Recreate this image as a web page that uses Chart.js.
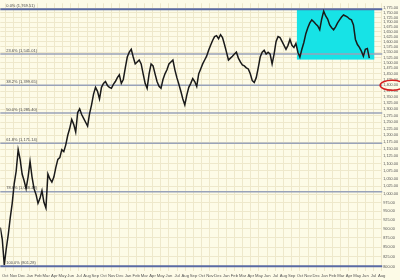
<!DOCTYPE html>
<html>
<head>
<meta charset="utf-8">
<script src="https://cdn.jsdelivr.net/npm/chart.js@4/dist/chart.umd.min.js"></script>
<style>
html, body { margin: 0; padding: 0; background: #fdfbe7; }
#wrap { width: 400px; height: 280px; }
</style>
</head>
<body>
<div id="wrap"><canvas id="myChart"></canvas></div>
<script>
// month names along the bottom, Oct of the first year to Aug four years later
const monthLabels = [
  'Oct','Nov','Dec','Jan','Feb','Mar','Apr','May','Jun','Jul','Aug','Sep',
  'Oct','Nov','Dec','Jan','Feb','Mar','Apr','May','Jun','Jul','Aug','Sep',
  'Oct','Nov','Dec','Jan','Feb','Mar','Apr','May','Jun','Jul','Aug','Sep',
  'Oct','Nov','Dec','Jan','Feb','Mar','Apr','May','Jun','Jul','Aug'
];

// weekly closes
const weeklyClose = [
  903, 871, 805, 846, 883, 930, 973, 1033, 1074, 1148, 1114, 1065, 1043, 1018, 1055, 1107,
  1055, 1018, 1000, 973, 988, 1012, 976, 959, 1065, 1049, 1039, 1055, 1087, 1114, 1120,
  1148, 1141, 1165, 1200, 1226, 1260, 1241, 1212, 1287, 1302, 1279, 1264, 1249, 1234, 1283,
  1318, 1362, 1391, 1374, 1342, 1391, 1408, 1416, 1399, 1391, 1387, 1404, 1416, 1433, 1446,
  1408, 1425, 1477, 1527, 1550, 1564, 1527, 1495, 1504, 1513,
  1495, 1450, 1408, 1387, 1450, 1495, 1486, 1450, 1416, 1395, 1387, 1425, 1450, 1468, 1495,
  1504, 1513, 1468, 1433, 1404, 1374, 1342, 1318, 1358, 1391, 1408, 1429, 1416, 1395, 1450,
  1472, 1495, 1513, 1531, 1559, 1583, 1607, 1626, 1631, 1616, 1636, 1621, 1587, 1550, 1513,
  1522, 1531, 1541, 1550, 1522, 1504, 1490, 1486, 1477, 1472, 1450, 1420, 1412, 1433, 1477,
  1527, 1550, 1559, 1541, 1550,
  1541, 1495, 1541, 1602, 1626, 1621, 1602, 1583, 1564, 1583, 1612, 1583, 1573, 1592, 1550,
  1527, 1564, 1597, 1641, 1671, 1696, 1712, 1702, 1691, 1681, 1661, 1717, 1759, 1733, 1717,
  1686, 1671, 1661, 1676, 1696, 1712, 1727, 1738, 1733, 1727, 1717, 1712, 1686, 1612, 1587,
  1573, 1555, 1531, 1564, 1568, 1522
];

const priceTicks = [
  800, 825, 850, 875, 900, 925, 950, 975, 1000, 1025, 1050, 1075, 1100, 1125, 1150, 1175,
  1200, 1225, 1250, 1275, 1300, 1325, 1350, 1375, 1400, 1425, 1450, 1475, 1500, 1525, 1550,
  1575, 1600, 1625, 1650, 1675, 1700, 1725, 1750, 1775
];

const fibLevels = [0, 23.6, 38.2, 50, 61.8, 78.6, 100];
const fibHigh = 1769.51;
const fibLow = 801.28;

const boxWeeks = [149.5, 188.5];
const boxPrices = [1515, 1769.51];
const circledPrice = 1400;

function monthPos(m) { return 2.5 + 4.125 * m; }

function fmt(v) {
  return v.toLocaleString('en-US', { minimumFractionDigits: 2, maximumFractionDigits: 2 });
}

const overlays = {
  id: 'overlays',
  beforeDraw(chart) {
    const ctx = chart.ctx;
    ctx.save();
    ctx.fillStyle = '#fdfbe7';
    ctx.fillRect(0, 0, chart.width, chart.height);
    ctx.restore();
  },
  beforeDatasetsDraw(chart) {
    const { ctx, chartArea: a, scales: { x, y } } = chart;
    ctx.save();
    // highlighted range
    const x1 = x.getPixelForValue(boxWeeks[0]);
    const x2 = x.getPixelForValue(boxWeeks[1]);
    const y1 = y.getPixelForValue(boxPrices[1]);
    const y2 = y.getPixelForValue(boxPrices[0]);
    ctx.fillStyle = '#17e3e6';
    ctx.fillRect(x1, y1, x2 - x1, y2 - y1);
    // fibonacci lines
    ctx.font = '4px "Liberation Sans"';
    ctx.textBaseline = 'bottom';
    fibLevels.forEach(p => {
      const price = fibHigh - (fibHigh - fibLow) * p / 100;
      const py = y.getPixelForValue(price);
      const edge = p === 0 || p === 100;
      ctx.strokeStyle = edge ? '#5a6aa3' : '#98a2b9';
      ctx.lineWidth = edge ? 2 : 1.5;
      ctx.beginPath();
      ctx.moveTo(a.left, py);
      ctx.lineTo(a.right, py);
      ctx.stroke();
      ctx.fillStyle = '#4a4a4a';
      ctx.fillText(p.toFixed(1) + '% (' + fmt(price) + ')', a.left + 6, py - 1.5);
    });
    ctx.restore();
  },
  afterDraw(chart) {
    const { ctx, chartArea: a, scales: { y } } = chart;
    const cy = y.getPixelForValue(circledPrice);
    const cx = (a.right + chart.width) / 2 + 1;
    ctx.save();
    ctx.strokeStyle = '#d61f1f';
    ctx.lineWidth = 1.5;
    ctx.beginPath();
    ctx.ellipse(cx, cy, 12, 5, 0, 0, Math.PI * 2);
    ctx.stroke();
    ctx.restore();
  }
};

const ctx = document.getElementById('myChart').getContext('2d');
new Chart(ctx, {
  type: 'line',
  data: {
    datasets: [{
      data: weeklyClose.map((v, i) => ({ x: i, y: v })),
      borderColor: '#1a1a1a',
      borderWidth: 1.5,
      pointRadius: 0,
      tension: 0
    }]
  },
  options: {
    responsive: true,
    maintainAspectRatio: false,
    animation: false,
    layout: { padding: { left: 0, top: 0, right: 1, bottom: 0 } },
    plugins: { legend: { display: false }, tooltip: { enabled: false } },
    scales: {
      x: {
        type: 'linear',
        min: 0,
        max: 192.5,
        afterBuildTicks: s => { s.ticks = monthLabels.map((_, m) => ({ value: monthPos(m) })); },
        ticks: {
          autoSkip: false,
          maxRotation: 0,
          padding: 2,
          color: '#555',
          font: { size: 4.2, family: 'Liberation Sans' },
          callback: (v, i) => monthLabels[i]
        },
        grid: { color: '#eee8cb', drawTicks: false },
        border: { display: false }
      },
      y: {
        type: 'logarithmic',
        position: 'right',
        min: 790,
        max: 1802,
        afterBuildTicks: s => { s.ticks = priceTicks.map(v => ({ value: v })); },
        ticks: {
          autoSkip: false,
          padding: 1,
          color: '#555',
          font: { size: 3.8, family: 'Liberation Sans' },
          callback: v => fmt(v)
        },
        grid: { color: '#eee8cb', drawTicks: false },
        border: { display: false }
      }
    }
  },
  plugins: [overlays]
});
</script>
</body>
</html>
